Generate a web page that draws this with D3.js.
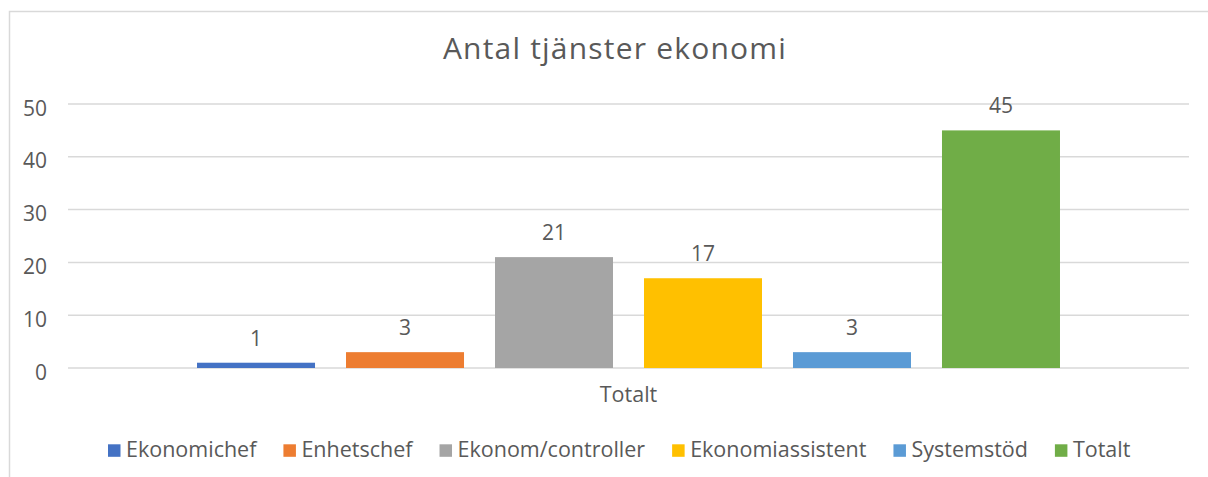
<!DOCTYPE html>
<html lang="sv">
<head>
    <meta charset="UTF-8">
    <title>Antal tjänster ekonomi</title>
    <style>
        body { margin: 0; background: #fff; }
        text { font-family: "Open Sans", "Noto Sans", sans-serif; fill: #595959; }
    </style>
    <script src="https://cdn.jsdelivr.net/npm/d3@7"></script>
</head>
<body>
    <script>
        // Data
        const categories = ["Totalt"];
        const seriesNames = ["Ekonomichef", "Enhetschef", "Ekonom/controller", "Ekonomiassistent", "Systemstöd", "Totalt"];
        const seriesValues = [1, 3, 21, 17, 3, 45];
        const seriesColors = ["#4472C4", "#ED7D31", "#A5A5A5", "#FFC000", "#5B9BD5", "#70AD47"];
        const yTicks = [0, 10, 20, 30, 40, 50];

        const width = 1208, height = 477;
        const plot = { left: 68, right: 1189, top: 104, bottom: 368 };

        const svg = d3.select("body").append("svg")
            .attr("width", width).attr("height", height);

        // chart border (runs off the right and bottom edge like the screenshot)
        svg.append("rect")
            .attr("x", 9.5).attr("y", 11.5)
            .attr("width", 1300).attr("height", 600)
            .attr("fill", "none").attr("stroke", "#d9d9d9").attr("stroke-width", 1.5);

        // Title
        svg.append("text")
            .attr("x", 615).attr("y", 59)
            .attr("text-anchor", "middle")
            .style("font-size", "30px")
            .style("letter-spacing", "1.2px")
            .text("Antal tjänster ekonomi");

        // Scales
        const y = d3.scaleLinear().domain([0, 50]).range([plot.bottom, plot.top]);
        const x0 = d3.scaleBand().domain(categories)
            .range([plot.left, plot.right]).paddingInner(0).paddingOuter(0.1495);
        const x1 = d3.scaleBand().domain(seriesNames)
            .range([0, x0.bandwidth()]).paddingInner(0.208).paddingOuter(0);

        // Gridlines
        svg.append("g")
            .selectAll("line")
            .data(yTicks)
            .join("line")
            .attr("x1", plot.left).attr("x2", plot.right)
            .attr("y1", d => y(d)).attr("y2", d => y(d))
            .attr("stroke", "#d9d9d9").attr("stroke-width", 1.5);

        // Y axis labels
        const yAxis = svg.append("g")
            .attr("transform", `translate(${plot.left - 21},0)`)
            .call(d3.axisLeft(y).tickValues(yTicks).tickSize(0).tickPadding(0));
        yAxis.select(".domain").remove();
        yAxis.selectAll("text")
            .attr("dy", null)
            .attr("y", 11)
            .style("font-size", "21px");

        // Bars
        const group = svg.append("g")
            .selectAll("g")
            .data(categories)
            .join("g")
            .attr("transform", d => `translate(${x0(d)},0)`);

        group.selectAll("rect")
            .data(seriesNames.map((s, i) => ({ name: s, value: seriesValues[i], color: seriesColors[i] })))
            .join("rect")
            .attr("x", d => x1(d.name))
            .attr("y", d => y(d.value))
            .attr("width", x1.bandwidth())
            .attr("height", d => y(0) - y(d.value))
            .attr("fill", d => d.color);

        // Data labels
        group.selectAll("text.label")
            .data(seriesNames.map((s, i) => ({ name: s, value: seriesValues[i] })))
            .join("text")
            .attr("class", "label")
            .attr("x", d => x1(d.name) + x1.bandwidth() / 2)
            .attr("y", d => y(d.value) - 17)
            .attr("text-anchor", "middle")
            .style("font-size", "21px")
            .text(d => d.value);

        // Category axis label
        const xAxis = svg.append("g")
            .attr("transform", `translate(0,${plot.bottom})`)
            .call(d3.axisBottom(x0).tickSize(0).tickPadding(0));
        xAxis.select(".domain").remove();
        xAxis.selectAll("text")
            .attr("y", 34).attr("dy", 0)
            .style("font-size", "21.5px");

        // Legend
        const legend = svg.append("g").attr("transform", "translate(108,0)");
        let lx = 0;
        seriesNames.forEach((name, i) => {
            const item = legend.append("g").attr("transform", `translate(${lx},0)`);
            item.append("rect")
                .attr("x", 0).attr("y", 444.3)
                .attr("width", 12.5).attr("height", 12.5)
                .attr("fill", seriesColors[i]);
            const t = item.append("text")
                .attr("x", 18).attr("y", 457)
                .style("font-size", "21.5px")
                .text(name);
            lx += 18 + t.node().getComputedTextLength() + 27;
        });
    </script>
</body>
</html>
